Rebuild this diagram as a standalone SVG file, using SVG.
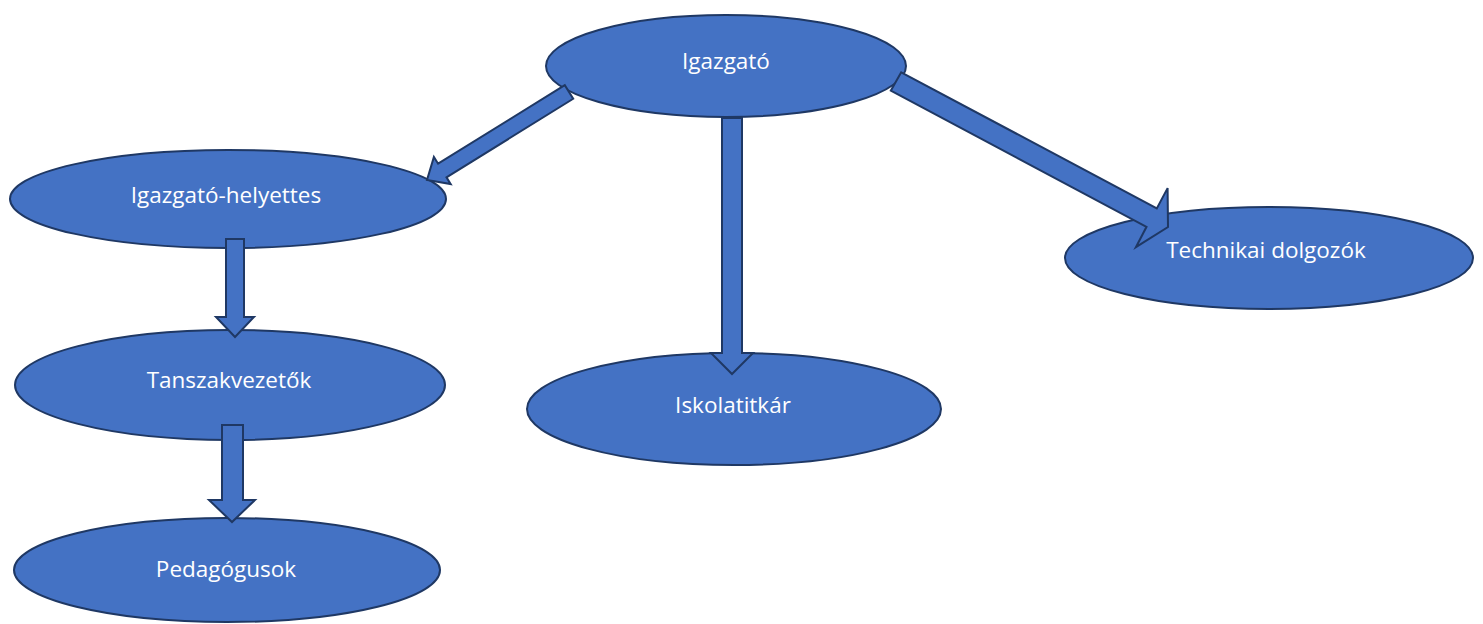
<svg xmlns="http://www.w3.org/2000/svg" width="1483" height="624" viewBox="0 0 1483 624">
<style>
.node ellipse{fill:#4472C4;stroke:#1F3864;stroke-width:2}
.node text{fill:#FFFFFF;font-family:"Open Sans","Liberation Sans",sans-serif;font-size:22.5px;text-anchor:middle}
.conn polygon{fill:#4472C4;stroke:#1F3864;stroke-width:2;stroke-linejoin:miter}
</style>
<rect width="1483" height="624" fill="#FFFFFF"/>
<g id="igazgato" class="node"><ellipse cx="726" cy="66" rx="180" ry="51"/><text x="726" y="69">Igazgató</text></g>
<g id="helyettes" class="node"><ellipse cx="228" cy="199" rx="218" ry="49"/><text x="226" y="203">Igazgató-helyettes</text></g>
<g id="tanszak" class="node"><ellipse cx="230" cy="385" rx="215" ry="55"/><text x="229" y="388">Tanszakvezetők</text></g>
<g id="pedagogusok" class="node"><ellipse cx="227" cy="570" rx="213" ry="52"/><text x="226" y="577">Pedagógusok</text></g>
<g id="iskolatitkar" class="node"><ellipse cx="734" cy="409" rx="207" ry="56"/><text x="733" y="413">Iskolatitkár</text></g>
<g id="technikai" class="node"><ellipse cx="1269" cy="258" rx="204" ry="51"/><text x="1266" y="258">Technikai dolgozók</text></g>
<g id="connectors" class="conn">
<polygon points="564.8,85.2 438.1,163.7 433.9,156.9 427,180 450.7,184.1 446.5,177.3 573.2,98.8"/>
<polygon points="901.2,72.3 1156.8,208.4 1167.6,188.1 1168,227 1135.9,247.2 1146.5,226.8 890.8,90.7"/>
<polygon points="722,118 742,118 742,353 753,353 732,374 711,353 722,353"/>
<polygon points="226,239 244,239 244,317 254,317 235,337 216,317 226,317"/>
<polygon points="222,425 243,425 243,500 255,500 232,522 209,500 222,500"/>
</g>
</svg>
